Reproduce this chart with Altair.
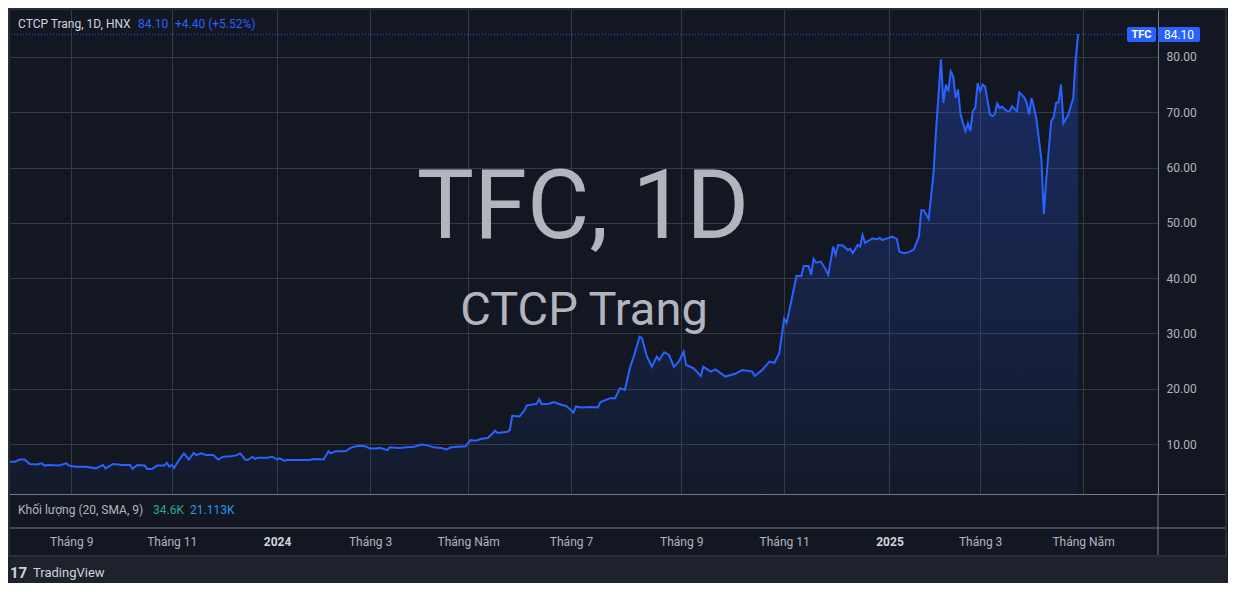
import altair as alt
import pandas as pd

# ---------------- data ----------------
sessions = [0, 2, 4, 6, 8, 11, 13, 14, 16, 20, 23, 24, 27, 31, 35, 38, 39, 42, 46, 49,
            50, 52, 55, 56, 58, 60, 63, 64, 65, 66, 67, 69, 71, 73, 75, 76, 78, 80, 83, 85,
            87, 90, 92, 94, 96, 97, 99, 100, 101, 105, 107, 109, 110, 112, 113, 114, 118, 122, 124, 128,
            130, 131, 133, 137, 139, 142, 145, 147, 149, 151, 154, 155, 159, 162, 165, 168, 170, 173, 176, 178,
            180, 183, 186, 188, 190, 193, 195, 197, 198, 199, 203, 204, 205, 208, 210, 211, 214, 215, 216, 217,
            220, 222, 225, 227, 230, 231, 233, 237, 240, 241, 245, 247, 249, 251, 253, 255, 257, 258, 260, 262,
            264, 265, 267, 269, 271, 273, 275, 276, 279, 282, 283, 286, 288, 292, 296, 299, 303, 304, 307, 310,
            312, 314, 316, 317, 319, 321, 323, 324, 326, 327, 328, 329, 331, 333, 334, 336, 337, 338, 340, 342,
            343, 344, 346, 347, 348, 349, 351, 352, 354, 355, 356, 358, 360, 362, 363, 365, 367, 369, 371, 372,
            373, 375, 377, 378, 380, 381, 382, 383, 384, 385, 386, 387, 388, 390, 391, 392, 393, 394, 395, 396,
            397, 398, 400, 401, 402, 403, 404, 405, 407, 408, 409, 411, 412, 414, 415, 416, 417, 418, 419, 421,
            422, 423, 425, 426, 427, 428, 429, 430, 432, 434, 435, 436]
prices = [6.8, 6.8, 7.2, 7.2, 6.4, 6.3, 6.5, 6.1, 6.2, 6.1, 6.5, 6.1, 5.9, 5.9, 5.6, 6.2, 5.6, 6.4, 6.2, 6.2,
          5.5, 6.2, 6.1, 5.5, 5.5, 6.1, 6.1, 6.6, 5.9, 6.2, 5.7, 7.1, 8.3, 7.2, 8.4, 8.0, 8.3, 8.0, 8.0, 7.2,
          7.7, 7.8, 7.9, 8.3, 7.2, 7.1, 7.7, 7.3, 7.5, 7.5, 7.7, 7.2, 7.4, 7.0, 7.1, 7.1, 7.1, 7.1, 7.3, 7.2,
          8.7, 8.3, 8.7, 8.7, 9.3, 9.7, 9.6, 9.2, 9.2, 9.3, 8.9, 9.4, 9.3, 9.4, 9.5, 9.9, 9.8, 9.4, 9.3, 9.0,
          9.4, 9.5, 9.6, 10.7, 10.6, 11.0, 11.1, 11.9, 12.4, 12.0, 12.2, 12.5, 15.1, 15.0, 16.1, 17.0, 17.2, 17.3, 18.1, 17.2,
          17.3, 17.6, 17.1, 16.9, 15.7, 16.8, 16.6, 16.7, 16.6, 17.6, 18.3, 18.3, 20.1, 19.8, 23.7, 26.4, 29.4, 29.1, 25.8, 24.0,
          25.8, 25.2, 26.6, 26.1, 24.0, 24.9, 26.7, 24.3, 23.7, 22.3, 24.0, 23.1, 23.5, 22.2, 22.7, 23.4, 23.1, 22.3, 23.4, 24.9,
          24.7, 26.4, 32.7, 31.9, 36.0, 40.4, 40.4, 42.2, 42.2, 40.6, 43.5, 42.8, 43.0, 41.5, 40.6, 45.7, 44.2, 46.0, 45.9, 45.1,
          45.3, 44.5, 46.0, 45.7, 47.8, 46.4, 46.9, 47.2, 47.0, 47.3, 46.9, 47.2, 47.5, 47.1, 44.8, 44.5, 44.7, 45.2, 47.5, 52.3,
          52.3, 50.7, 59.2, 66.7, 79.6, 71.7, 75.0, 73.8, 77.4, 76.5, 72.6, 74.1, 69.6, 66.6, 68.0, 66.6, 70.2, 70.8, 75.3, 73.8,
          75.0, 74.7, 69.6, 69.3, 69.7, 71.6, 70.8, 71.0, 70.2, 70.2, 71.1, 70.2, 73.6, 72.7, 71.7, 69.6, 72.6, 70.8, 68.7, 61.5,
          51.6, 57.9, 68.4, 69.1, 71.7, 71.8, 75.0, 68.0, 69.6, 72.6, 79.7, 84.1]

tick_sessions = [25, 66, 109, 147, 187, 229, 274, 316, 359, 396, 438]
tick_labels = ["Tháng 9", "Tháng 11", "2024", "Tháng 3", "Tháng Năm", "Tháng 7",
               "Tháng 9", "Tháng 11", "2025", "Tháng 3", "Tháng Năm"]
price_ticks = [10, 20, 30, 40, 50, 60, 70, 80]

symbol = "TFC"
title_name = "CTCP Trang, 1D, HNX"
last_price = 84.10
change = 4.40
change_pct = 5.52
vol_label = "Khối lượng (20, SMA, 9)"
vol_value = "34.6K"
vol_sma = "21.113K"

# ---------------- style ----------------
BG = "#131722"
OUTER = "#1e222d"
GRID = "#363a45"
SEP = "#787b86"
TXT = "#b2b5be"
BLUE = "#2962ff"
FONT = "Roboto"
W, H, HV = 1148, 484, 34
X_DOMAIN = [0, 468.6]
Y_DOMAIN = [0.96, 88.5]

df = pd.DataFrame({"s": sessions, "p": prices})
ticks_df = pd.DataFrame({"s": tick_sessions, "label": tick_labels})
one = pd.DataFrame({"k": [0]})
last_df = pd.DataFrame({"p": [last_price]})

xscale = alt.Scale(domain=X_DOMAIN, nice=False, zero=False)
yscale = alt.Scale(domain=Y_DOMAIN, nice=False, zero=False)

x_grid_axis = alt.Axis(values=tick_sessions, labels=False, ticks=False, domain=False,
                       grid=True, gridColor=GRID, gridWidth=1, title=None)
y_axis = alt.Axis(orient="right", values=price_ticks, format=".2f", title=None,
                  ticks=False, domain=True, domainColor=SEP, domainWidth=1,
                  grid=True, gridColor=GRID, gridWidth=1,
                  labelAlign="left", labelPadding=8, labelColor=TXT,
                  labelFont=FONT, labelFontSize=12, labelBaseline="middle")

gradient = alt.Gradient(
    gradient="linear",
    stops=[alt.GradientStop(color="rgba(41,98,255,0.30)", offset=0),
           alt.GradientStop(color="rgba(41,98,255,0.04)", offset=1)],
    x1=1, x2=1, y1=0, y2=1,
)

base = alt.Chart(df).encode(
    x=alt.X("s:Q", scale=xscale, axis=x_grid_axis),
    y=alt.Y("p:Q", scale=yscale, axis=y_axis),
)
area = base.mark_area(color=gradient, clip=True)
line = base.mark_line(color=BLUE, strokeWidth=2, clip=True)


def txt(text, x, y, size, color, weight="normal", align="left", baseline="middle", opacity=1):
    return alt.Chart(one).mark_text(
        text=text, font=FONT, fontSize=size, color=color, fontWeight=weight,
        align=align, baseline=baseline, opacity=opacity,
    ).encode(x=alt.value(x), y=alt.value(y))


wm1 = txt(f"{symbol}, 1D", 573, 228, 96, "#b2b5be", align="center", baseline="alphabetic")
wm2 = txt("CTCP Trang", 574, 315, 47, "#b2b5be", align="center", baseline="alphabetic")

last_rule = alt.Chart(last_df).mark_rule(color=BLUE, strokeWidth=1, strokeDash=[1, 2]).encode(
    y=alt.Y("p:Q", scale=yscale)
)

hdr1 = txt(title_name, 8, 14, 12, "#d1d4dc")
hdr2 = txt(f"{last_price:.2f}", 128, 14, 12, BLUE)
hdr3 = txt(f"+{change:.2f} (+{change_pct:.2f}%)", 165, 14, 12, BLUE)

box1 = alt.Chart(one).mark_rect(color=BLUE, cornerRadius=2).encode(
    x=alt.value(1117), x2=alt.value(1146), y=alt.value(17), y2=alt.value(32))
box2 = alt.Chart(one).mark_rect(color=BLUE, cornerRadius=2).encode(
    x=alt.value(1148), x2=alt.value(1190), y=alt.value(17), y2=alt.value(32))
box1t = txt(symbol, 1131.5, 24.5, 11, "white", weight="bold", align="center")
box2t = txt(f"{last_price:.2f}", 1169, 24.5, 12, "white", align="center")

frame = alt.Chart(one).mark_rect(fill=None, stroke="#2a2e39", strokeWidth=2).encode(
    x=alt.value(-1), x2=alt.value(1216), y=alt.value(-1), y2=alt.value(546))

price_pane = alt.layer(
    area, line, wm1, wm2, last_rule, hdr1, hdr2, hdr3, box1, box2, box1t, box2t, frame
).properties(width=W, height=H)

# ---------------- volume pane + time axis ----------------
lab_expr = ("[" + ",".join(f"'{l}'" for l in tick_labels) + "][indexof(["
            + ",".join(str(s) for s in tick_sessions) + "], datum.value)]")
year_test = " || ".join(f"datum.value == {s}" for s, l in zip(tick_sessions, tick_labels) if l.isdigit())

time_axis = alt.Axis(values=tick_sessions, labelExpr=lab_expr, title=None, grid=False,
                     ticks=False, domain=False, labelPadding=8, labelFont=FONT,
                     labelFontSize=12, labelOverlap=False, labelFlush=False, labelBound=False,
                     labelColor={"condition": {"test": year_test, "value": "#d1d4dc"}, "value": TXT},
                     labelFontWeight={"condition": {"test": year_test, "value": "bold"}, "value": "normal"})

axis_layer = alt.Chart(ticks_df).mark_point(opacity=0).encode(
    x=alt.X("s:Q", scale=xscale, axis=time_axis)
)

band = alt.Chart(one).mark_rect(color=OUTER).encode(
    x=alt.value(-2), x2=alt.value(1218), y=alt.value(63), y2=alt.value(89))
sep_top = alt.Chart(one).mark_rule(color=SEP, strokeWidth=1).encode(
    x=alt.value(0), x2=alt.value(1215), y=alt.value(0.5))
sep_bot = alt.Chart(one).mark_rule(color=SEP, strokeWidth=1).encode(
    x=alt.value(0), x2=alt.value(1215), y=alt.value(HV))
sep_v = alt.Chart(one).mark_rule(color=SEP, strokeWidth=1).encode(
    x=alt.value(W), y=alt.value(0), y2=alt.value(61))

v1 = txt(vol_label, 8, 16, 12, "#b2b5be")
v2 = txt(vol_value, 143, 16, 12, "#22ab94")
v3 = txt(vol_sma, 180, 16, 12, "#2196f3")

logo = txt("17", 0, 79, 15, "#d1d4dc", weight="bold")
logo_t = txt("TradingView", 23, 79, 13, "#d1d4dc")

vol_pane = alt.layer(
    band, axis_layer, sep_top, sep_bot, sep_v, v1, v2, v3, logo, logo_t
).properties(width=W, height=HV)

chart = alt.vconcat(price_pane, vol_pane, spacing=0, bounds="flush").properties(
    padding=0, background=BG
).configure(font=FONT, view=alt.ViewConfig(stroke=None))

chart.save("out.html", embed_options={"renderer": "svg", "actions": False})
